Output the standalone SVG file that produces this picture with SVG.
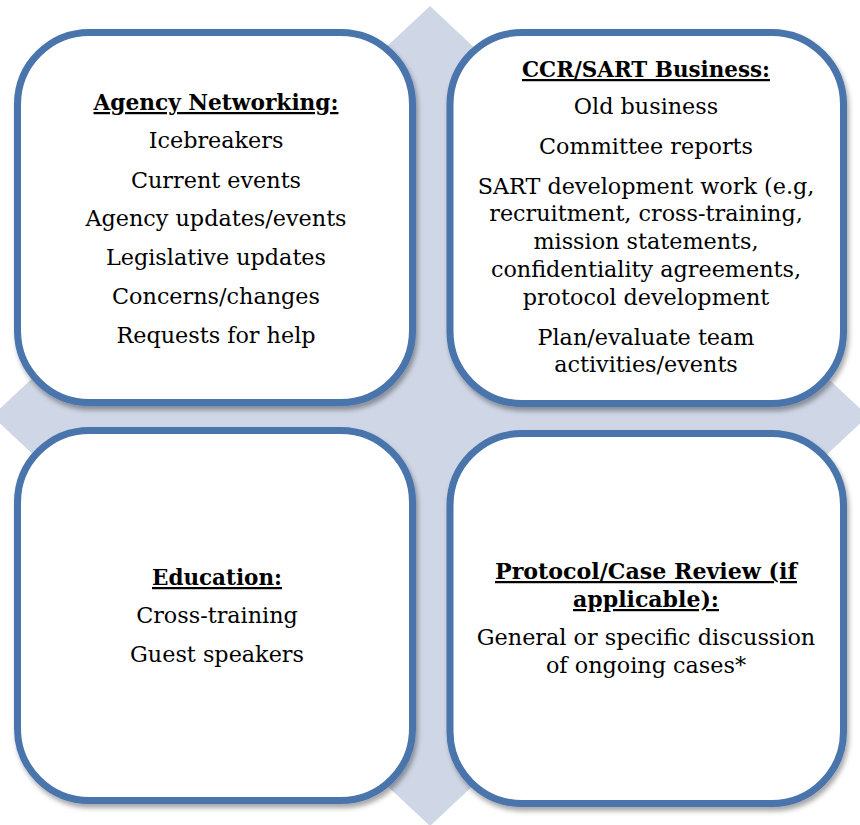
<svg xmlns="http://www.w3.org/2000/svg" width="860" height="825" viewBox="0 0 860 825">
<style>
.box{fill:#ffffff;stroke:#4874AC;stroke-width:7;filter:url(#sh)}
.t{font-family:"DejaVu Serif","Liberation Serif",serif;font-size:22.3px;fill:#000;text-anchor:middle}
.h{font-weight:bold;text-decoration:underline}
</style>
<defs>
<filter id="sh" x="-10%" y="-10%" width="120%" height="120%">
<feDropShadow dx="2" dy="4" stdDeviation="2.5" flood-color="#000" flood-opacity="0.35"/>
</filter>
</defs>
<rect width="860" height="825" fill="#ffffff"/>
<g id="diamond">
<polygon points="430,6 868,416 430,826 -8,416" fill="#CFD7E6"/>
</g>
<g id="node-agency">
<rect class="box" x="17.5" y="32.5" width="395" height="370" rx="72" ry="72"/>
<text class="t h" x="216" y="110" textLength="245" lengthAdjust="spacingAndGlyphs">Agency Networking:</text>
<text class="t" x="216" y="148">Icebreakers</text>
<text class="t" x="216" y="188">Current events</text>
<text class="t" x="216" y="226">Agency updates/events</text>
<text class="t" x="216" y="265">Legislative updates</text>
<text class="t" x="216" y="304">Concerns/changes</text>
<text class="t" x="216" y="343">Requests for help</text>
</g>
<g id="node-business">
<rect class="box" x="450" y="32.5" width="393.5" height="371" rx="72" ry="72"/>
<text class="t h" x="646" y="77" textLength="248" lengthAdjust="spacingAndGlyphs">CCR/SART Business:</text>
<text class="t" x="646" y="114">Old business</text>
<text class="t" x="646" y="154">Committee reports</text>
<text class="t" x="646" y="194">SART development work (e.g,</text>
<text class="t" x="646" y="221">recruitment, cross-training,</text>
<text class="t" x="646" y="249">mission statements,</text>
<text class="t" x="646" y="277">confidentiality agreements,</text>
<text class="t" x="646" y="305">protocol development</text>
<text class="t" x="646" y="345">Plan/evaluate team</text>
<text class="t" x="646" y="372">activities/events</text>
</g>
<g id="node-education">
<rect class="box" x="17.5" y="430.5" width="395" height="370" rx="72" ry="72"/>
<text class="t h" x="217" y="585" textLength="130" lengthAdjust="spacingAndGlyphs">Education:</text>
<text class="t" x="217" y="623">Cross-training</text>
<text class="t" x="217" y="662">Guest speakers</text>
</g>
<g id="node-protocol">
<rect class="box" x="450" y="433.5" width="393.5" height="370" rx="72" ry="72"/>
<text class="t h" x="646" y="579" textLength="302" lengthAdjust="spacingAndGlyphs">Protocol/Case Review (if</text>
<text class="t h" x="646" y="607" textLength="146" lengthAdjust="spacingAndGlyphs">applicable):</text>
<text class="t" x="646" y="645">General or specific discussion</text>
<text class="t" x="646" y="673">of ongoing cases*</text>
</g>
<g id="connectors"></g>
</svg>
